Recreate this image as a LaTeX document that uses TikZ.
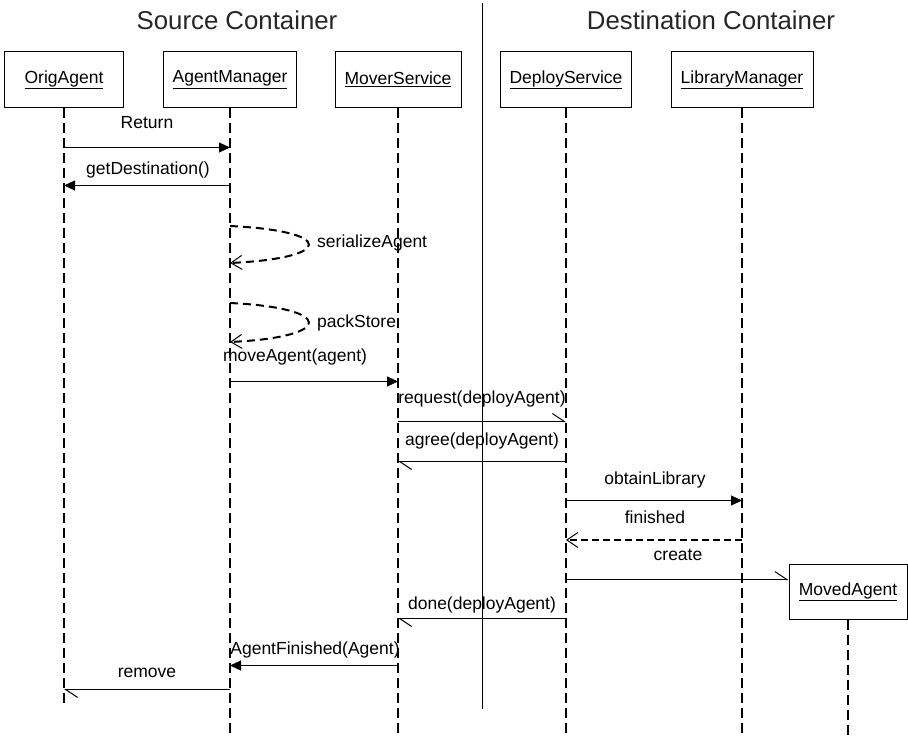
\documentclass[tikz,border=0pt]{standalone}
\usepackage{fontspec}
\setmainfont{Liberation Sans}
\usepackage{tikz}
\usetikzlibrary{arrows.meta, positioning}

\begin{document}
\begin{tikzpicture}[x=1pt, y=-1pt,
    obj/.style={draw, line width=1pt, minimum height=56pt, inner sep=0pt, font=\fontsize{17.5}{20}\selectfont},
    lifeline/.style={line width=2pt, dash pattern=on 10pt off 5pt},
    call/.style={line width=1pt, -{Triangle[length=11pt, width=10pt]}},
    async/.style={line width=1pt, -{Straight Barb[harpoon, length=12pt, width=16pt]}},
    reply/.style={line width=2pt, dash pattern=on 7pt off 4pt, -{Straight Barb[length=11pt, width=15pt, line width=1pt]}},
    selfmsg/.style={line width=2pt, dash pattern=on 8pt off 5pt, -{Straight Barb[length=11pt, width=14pt, line width=1pt]}},
    lbl/.style={inner sep=0pt, font=\fontsize{17.5}{20}\selectfont},
    title/.style={inner sep=0pt, font=\fontsize{25.8}{30}\selectfont, text=black!85}]
    \useasboundingbox (0,0) rectangle (908,736);

    % Containers
    \node[title] (src) at (237,20) {Source Container};
    \node[title] (dst) at (711,20) {Destination Container};
    \coordinate (divtop) at (482.5,3);
    \coordinate (divbot) at (482.5,709);
    \draw[line width=1.2pt] (divtop) -- (divbot);

    % Objects
    \node[obj, minimum width=119pt] (orig) at (64,79.5) {\underline{OrigAgent}};
    \node[obj, minimum width=133pt] (mgr) at (230,79.5) {\underline{AgentManager}};
    \node[obj, minimum width=126pt] (mover) at (398,79.5) {\underline{MoverService}};
    \node[obj, minimum width=131pt] (deploy) at (566,79.5) {\underline{DeployService}};
    \node[obj, minimum width=142pt] (lib) at (742,79.5) {\underline{LibraryManager}};
    \node[obj, minimum width=118pt, minimum height=55pt] (moved) at (848,591.5) {\underline{MovedAgent}};

    % Lifelines
    \draw[lifeline] (orig) -- (orig |- 0,703);
    \draw[lifeline] (mgr) -- (mgr |- 0,736);
    \draw[lifeline] (mover) -- (mover |- 0,736);
    \draw[lifeline] (deploy) -- (deploy |- 0,736);
    \draw[lifeline] (lib) -- (lib |- 0,736);
    \draw[lifeline] (moved) -- (moved |- 0,736);

    % Source side
    \draw[call] (orig |- 0,147.5) -- (mgr |- 0,147.5);
    \node[lbl] (m1) at (147,123) {Return};
    \draw[call] (mgr |- 0,185.5) -- (orig |- 0,185.5);
    \node[lbl] (m2) at (148,170) {getDestination()};
    \draw[selfmsg] (mgr |- 0,226) .. controls +(105,5) and +(105,-5) .. (mgr |- 0,263);
    \node[lbl, anchor=west] (m3) at (317,243) {serializeAgent};
    \draw[selfmsg] (mgr |- 0,303) .. controls +(105,5) and +(105,-5) .. (mgr |- 0,342);
    \node[lbl, anchor=west] (m4) at (317,323) {packStore};
    \draw[call] (mgr |- 0,381.5) -- (mover |- 0,381.5);
    \node[lbl] (m5) at (295,357) {moveAgent(agent)};

    % Across containers
    \draw[async] (mover |- 0,421.5) -- (deploy |- 0,421.5);
    \node[lbl] (m6) at (482,399) {request(deployAgent)};
    \draw[async] (deploy |- 0,461.5) -- (mover |- 0,461.5);
    \node[lbl] (m7) at (482,441) {agree(deployAgent)};

    % Destination side
    \draw[call] (deploy |- 0,500.5) -- (lib |- 0,500.5);
    \node[lbl] (m8) at (655,480) {obtainLibrary};
    \draw[reply] (lib |- 0,540) -- (deploy |- 0,540);
    \node[lbl] (m9) at (655,517) {finished};
    \draw[async] (deploy |- 0,579.5) -- (moved.west |- 0,579.5);
    \node[lbl] (m10) at (678,555) {create};
    \draw[async] (deploy |- 0,618.5) -- (mover |- 0,618.5);
    \node[lbl] (m11) at (482,605) {done(deployAgent)};

    % Back to source
    \draw[call] (mover |- 0,665.5) -- (mgr |- 0,665.5);
    \node[lbl] (m12) at (315,650) {AgentFinished(Agent)};
    \draw[async] (mgr |- 0,689.5) -- (orig |- 0,689.5);
    \node[lbl] (m13) at (147,673) {remove};
\end{tikzpicture}
\end{document}
